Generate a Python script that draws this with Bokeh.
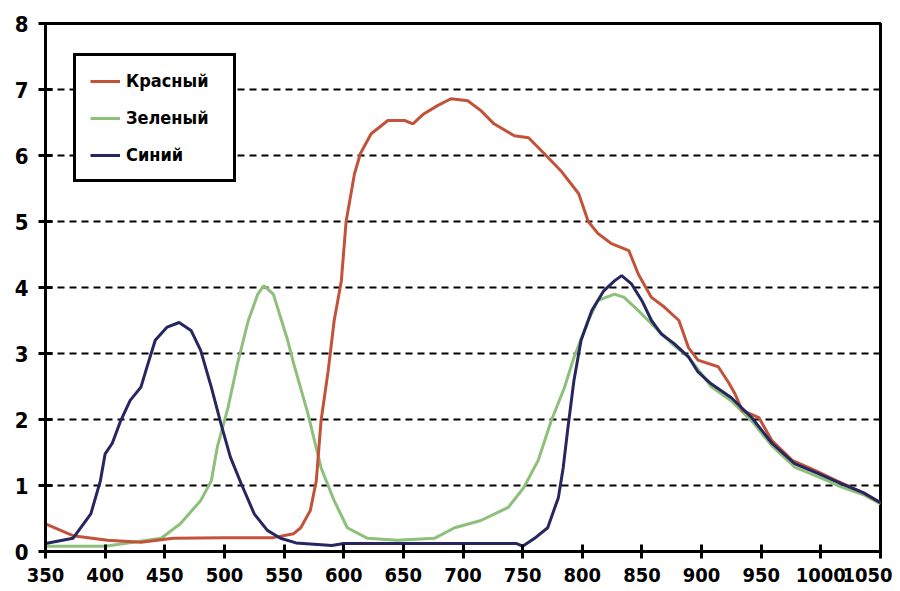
from bokeh.plotting import figure
from bokeh.models import Legend, LegendItem, FixedTicker, Range1d
from bokeh.embed import file_html
from bokeh.resources import INLINE

# ---- data ----
red_nm = [350, 373, 402, 430, 457, 500, 541, 558, 564, 572, 577, 581, 587, 592, 598, 602, 609, 614, 623, 637,
          651, 658, 667, 679, 690, 704, 715, 726, 743, 755, 768, 782, 797, 805, 813, 824, 839, 847, 858, 869,
          881, 889, 897, 914, 923, 928, 934, 948, 959, 976, 995, 1012, 1032, 1050]
red_v = [0.42, 0.24, 0.17, 0.14, 0.2, 0.21, 0.21, 0.27, 0.36, 0.62, 1.07, 1.98, 2.74, 3.5, 4.1, 5.0, 5.72, 6.03, 6.33, 6.53,
         6.53, 6.48, 6.63, 6.76, 6.86, 6.83, 6.68, 6.48, 6.3, 6.27, 6.03, 5.77, 5.42, 5.0, 4.82, 4.67, 4.56, 4.2, 3.85, 3.7,
         3.5, 3.09, 2.9, 2.8, 2.55, 2.39, 2.14, 2.03, 1.68, 1.38, 1.23, 1.08, 0.92, 0.74]

green_nm = [350, 400, 447, 463, 480, 489, 494, 503, 511, 520, 528, 533, 541, 553, 558, 570, 581, 592, 603, 620,
            645, 676, 693, 715, 738, 751, 763, 774, 785, 793, 805, 813, 827, 835, 847, 858, 877, 889, 908, 925,
            942, 959, 978, 998, 1017, 1037, 1050]
green_v = [0.08, 0.08, 0.2, 0.42, 0.77, 1.07, 1.58, 2.18, 2.85, 3.5, 3.9, 4.03, 3.9, 3.2, 2.85, 2.09, 1.27, 0.77, 0.36, 0.2,
           0.17, 0.2, 0.36, 0.47, 0.67, 0.97, 1.38, 1.98, 2.48, 2.94, 3.5, 3.8, 3.9, 3.85, 3.65, 3.45, 3.12, 2.95, 2.5, 2.28,
           1.98, 1.6, 1.28, 1.13, 0.98, 0.85, 0.72]

blue_nm = [350, 373, 388, 396, 400, 406, 413, 421, 430, 436, 442, 452, 462, 472, 480, 489, 497, 505, 514, 525,
           536, 547, 560, 590, 600, 650, 700, 745, 750, 760, 771, 780, 784, 788, 793, 799, 808, 818, 827, 833,
           841, 850, 858, 866, 877, 889, 897, 908, 925, 942, 959, 978, 998, 1017, 1037, 1050]
blue_v = [0.12, 0.2, 0.57, 1.07, 1.48, 1.64, 1.98, 2.29, 2.49, 2.85, 3.2, 3.4, 3.47, 3.35, 3.05, 2.49, 1.94, 1.43, 1.03, 0.57,
          0.32, 0.2, 0.13, 0.09, 0.12, 0.12, 0.12, 0.12, 0.08, 0.2, 0.36, 0.82, 1.27, 1.88, 2.59, 3.2, 3.65, 3.95, 4.1, 4.18,
          4.06, 3.8, 3.5, 3.3, 3.15, 2.95, 2.72, 2.54, 2.33, 2.03, 1.64, 1.33, 1.18, 1.03, 0.88, 0.74]

x_ticks = [350, 400, 450, 500, 550, 600, 650, 700, 750, 800, 850, 900, 950, 1000, 1050]
y_ticks = [0, 1, 2, 3, 4, 5, 6, 7, 8]
labels = ["Красный", "Зеленый", "Синий"]

RED = "#c2533a"
GREEN = "#8dc07a"
BLUE = "#262660"
FONT = "DejaVu Sans Condensed, Liberation Sans, sans-serif"

p = figure(width=892, height=585, output_backend="svg", toolbar_location=None,
           x_range=Range1d(350, 1050), y_range=Range1d(0, 8),
           min_border_left=45, min_border_right=12, min_border_top=23, min_border_bottom=34)
p.background_fill_color = "white"
p.border_fill_color = "white"
p.outline_line_color = "black"
p.outline_line_width = 3

p.xgrid.grid_line_color = None
p.ygrid.grid_line_color = "black"
p.ygrid.grid_line_width = 2
p.ygrid.grid_line_dash = "7 5"

for ax in (p.xaxis[0], p.yaxis[0]):
    ax.axis_line_color = "black"
    ax.axis_line_width = 3
    ax.major_tick_line_color = "black"
    ax.major_tick_line_width = 3
    ax.major_tick_in = 7
    ax.major_tick_out = 7
    ax.minor_tick_line_color = None
    ax.major_label_text_font = FONT
    ax.major_label_text_font_style = "bold"
    ax.major_label_text_color = "black"

p.xaxis.major_label_text_font_size = "20px"
p.yaxis.major_label_text_font_size = "22px"
p.xaxis.ticker = FixedTicker(ticks=x_ticks)
p.yaxis.ticker = FixedTicker(ticks=y_ticks)
p.xaxis.major_label_standoff = 9
p.yaxis.major_label_standoff = 10

rg = p.line(green_nm, green_v, line_color=GREEN, line_width=3)
rr = p.line(red_nm, red_v, line_color=RED, line_width=3)
rb = p.line(blue_nm, blue_v, line_color=BLUE, line_width=3)

legend = Legend(items=[LegendItem(label=labels[0], renderers=[rr]),
                       LegendItem(label=labels[1], renderers=[rg]),
                       LegendItem(label=labels[2], renderers=[rb])],
                location=(28, 369))
legend.border_line_color = "black"
legend.border_line_alpha = 1
legend.border_line_width = 3
legend.background_fill_color = "white"
legend.background_fill_alpha = 1
legend.label_text_font = FONT
legend.label_text_font_style = "bold"
legend.label_text_font_size = "18px"
legend.label_text_color = "black"
legend.glyph_width = 30
legend.label_width = 93
legend.label_standoff = 6
legend.spacing = 16
legend.padding = 14
legend.margin = 0
p.add_layout(legend, "center")

open("out.html", "w").write(file_html(p, INLINE))
